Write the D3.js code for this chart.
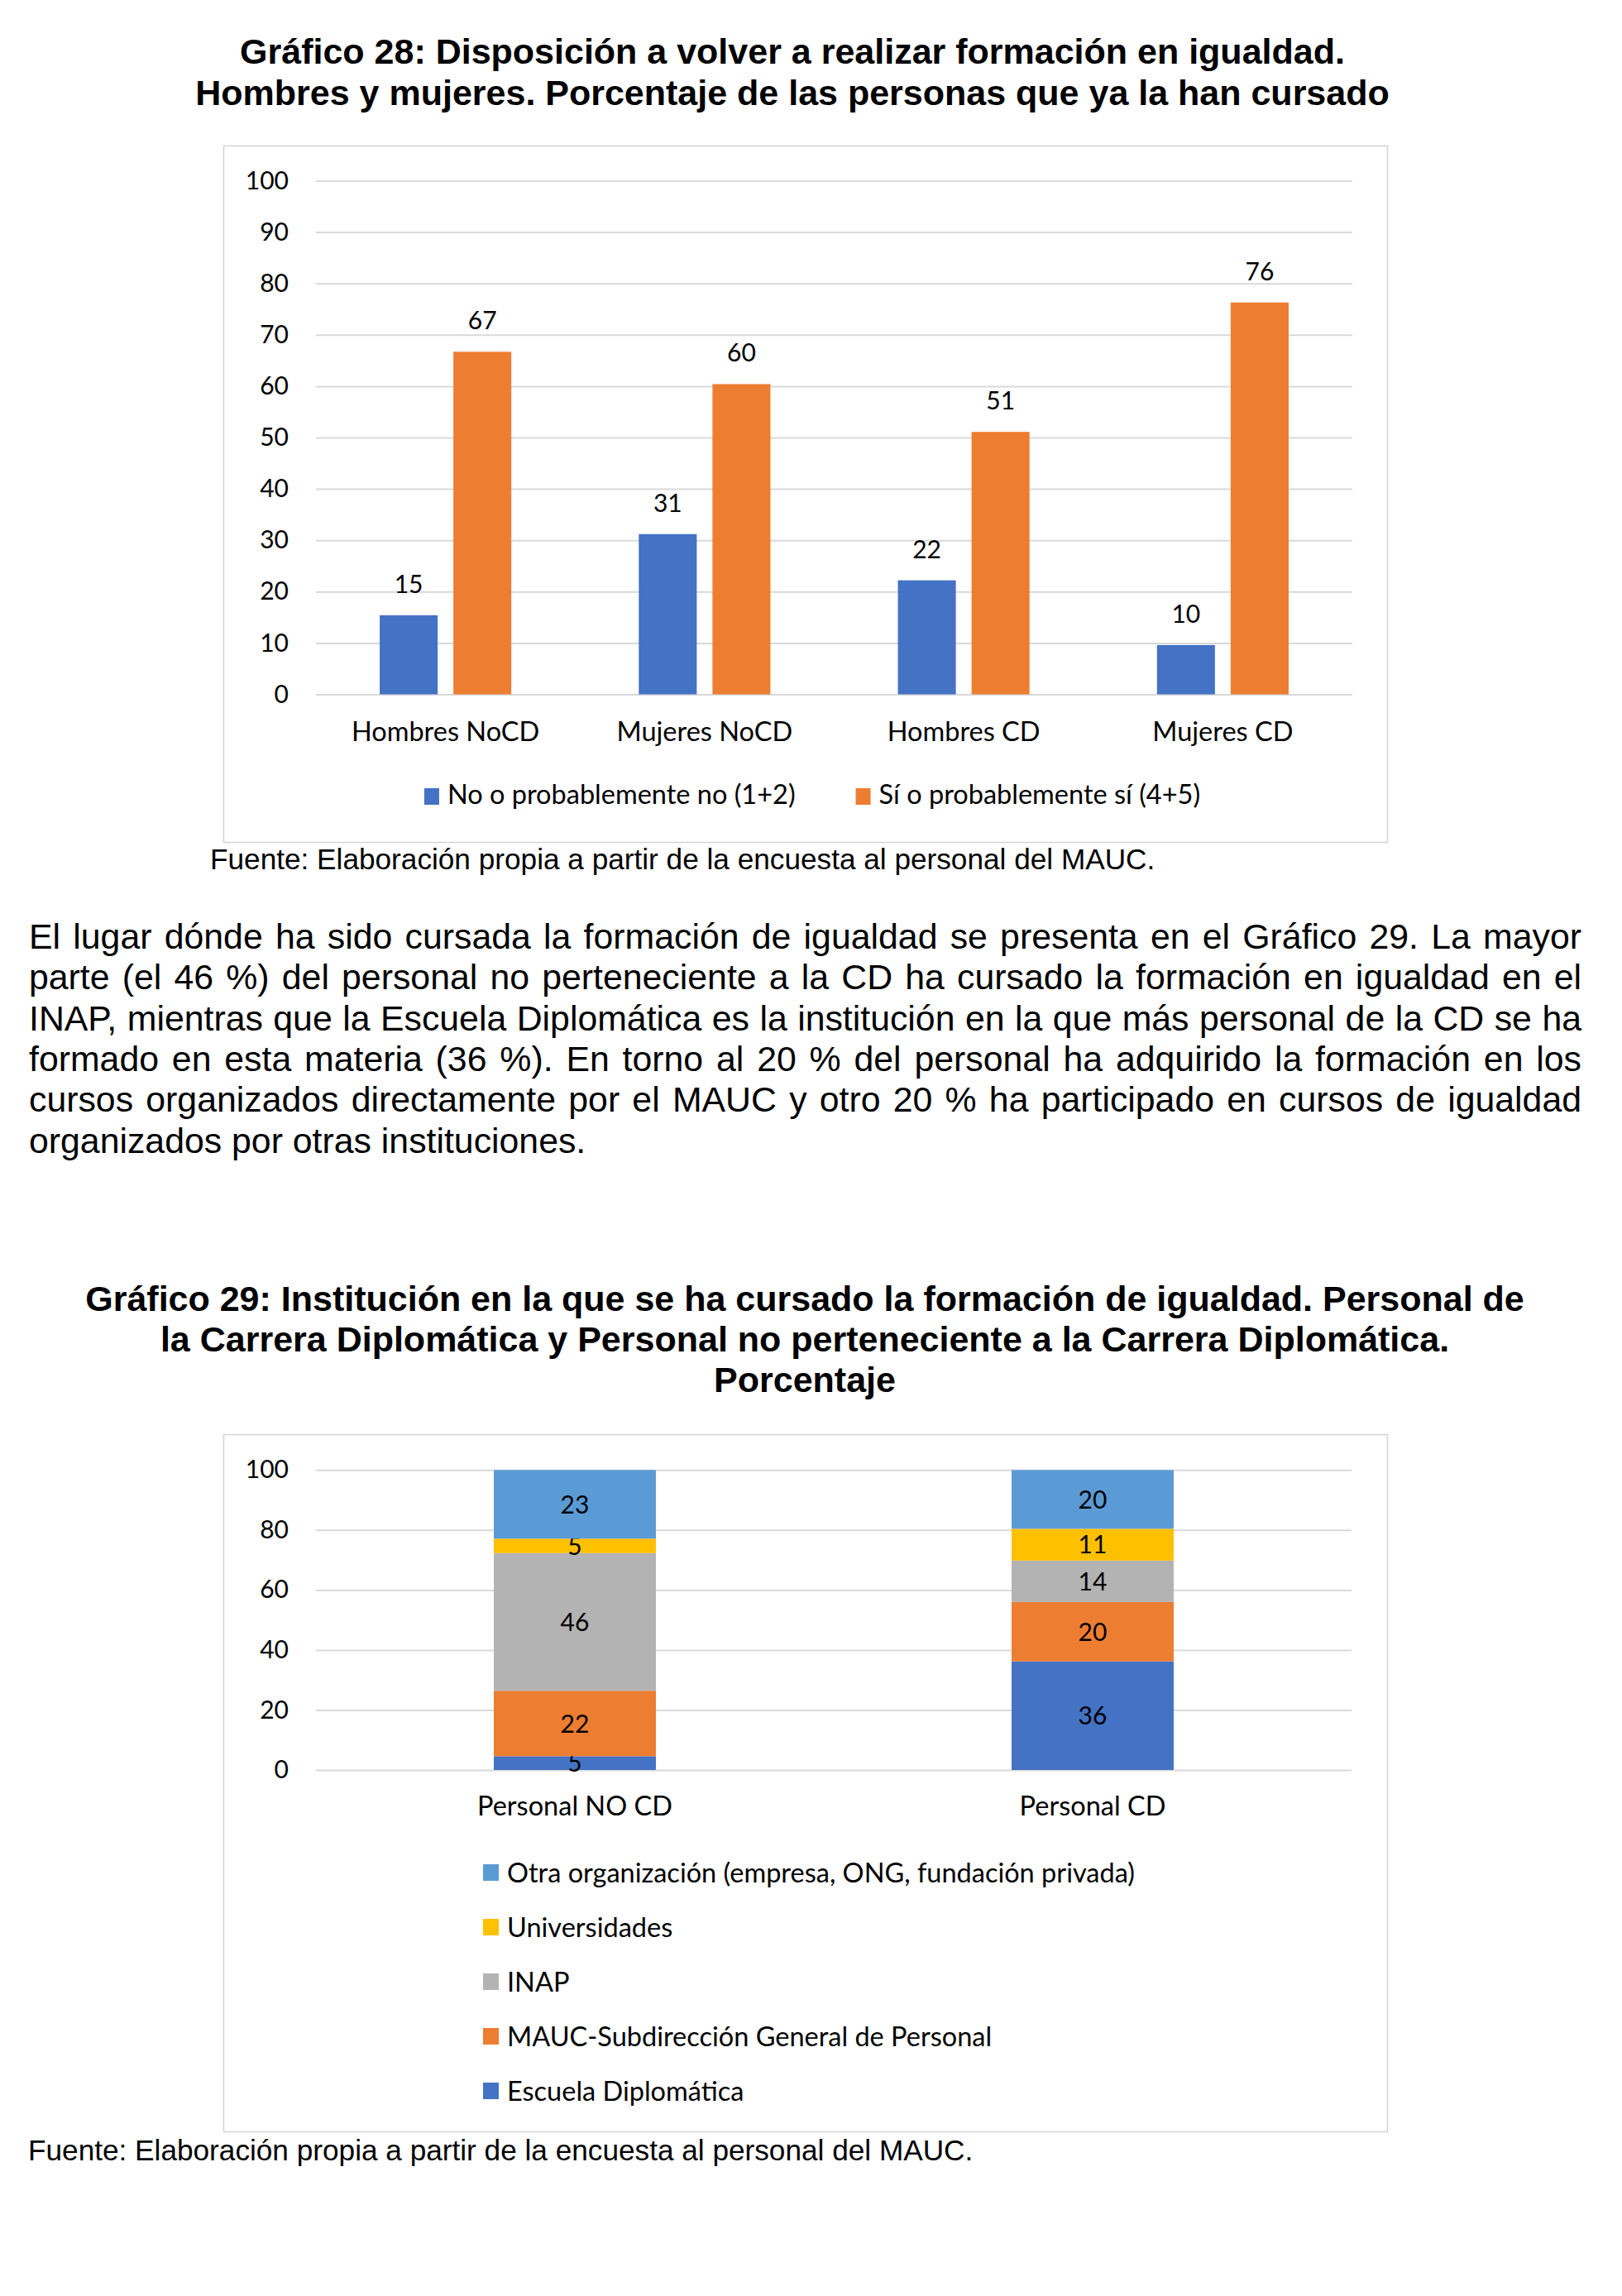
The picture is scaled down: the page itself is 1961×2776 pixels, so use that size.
<!DOCTYPE html>
<html>
<head>
<meta charset="utf-8">
<script src="https://cdn.jsdelivr.net/npm/d3@7.9.0/dist/d3.min.js"></script>
<style>
  body { margin: 0; background: #fff; }
  svg { display: block; }
  .doc { font-family: "Liberation Sans", Arial, sans-serif; fill: #000; }
  .chart text { font-family: Lato, "Open Sans", sans-serif; fill: #000; }
</style>
</head>
<body>
<svg id="page" width="1961" height="2776"></svg>
<script>
// Gráfico 28
const groups28 = ["Hombres NoCD", "Mujeres NoCD", "Hombres CD", "Mujeres CD"];
const series28 = ["No o probablemente no (1+2)", "Sí o probablemente sí (4+5)"];
const noValues = [15.4, 31.2, 22.2, 9.6];
const siValues = [66.7, 60.4, 51.1, 76.3];
const ticks28 = [0, 10, 20, 30, 40, 50, 60, 70, 80, 90, 100];

// Gráfico 29 (stack order: bottom to top)
const groups29 = ["Personal NO CD", "Personal CD"];
const institutions = ["Escuela Diplomática", "MAUC-Subdirección General de Personal", "INAP", "Universidades", "Otra organización (empresa, ONG, fundación privada)"];
const escuelaValues = [4.6, 36.2];
const maucValues = [21.8, 19.8];
const inapValues = [45.9, 13.8];
const uniValues = [4.8, 10.6];
const otraValues = [22.9, 19.6];
const ticks29 = [0, 20, 40, 60, 80, 100];

const title28 = ["Gráfico 28: Disposición a volver a realizar formación en igualdad.",
  "Hombres y mujeres. Porcentaje de las personas que ya la han cursado"];
const title29 = ["Gráfico 29: Institución en la que se ha cursado la formación de igualdad. Personal de",
  "la Carrera Diplomática y Personal no perteneciente a la Carrera Diplomática.",
  "Porcentaje"];
const paragraph = [
  "El lugar dónde ha sido cursada la formación de igualdad se presenta en el Gráfico 29. La mayor",
  "parte (el 46 %) del personal no perteneciente a la CD ha cursado la formación en igualdad en el",
  "INAP, mientras que la Escuela Diplomática es la institución en la que más personal de la CD se ha",
  "formado en esta materia (36 %). En torno al 20 % del personal ha adquirido la formación en los",
  "cursos organizados directamente por el MAUC y otro 20 % ha participado en cursos de igualdad",
  "organizados por otras instituciones."];
const fuente = "Fuente: Elaboración propia a partir de la encuesta al personal del MAUC.";

const blue = "#4472C4", orange = "#ED7D31", gray = "#B3B3B3", yellow = "#FFC000", lightBlue = "#5B9BD5";
const fmt = d3.format(".0f");
const numSize = 30, labelSize = 32.5;

const svg = d3.select("#page");

// ---------- titles, paragraph, sources ----------
title28.forEach((t, i) => {
  svg.append("text").attr("class", "doc")
    .attr("x", 958).attr("y", 77 + i * 50)
    .attr("text-anchor", "middle")
    .attr("font-size", 43).attr("font-weight", "bold")
    .text(t);
});

title29.forEach((t, i) => {
  svg.append("text").attr("class", "doc")
    .attr("x", 973).attr("y", 1585 + i * 49)
    .attr("text-anchor", "middle")
    .attr("font-size", 43).attr("font-weight", "bold")
    .text(t);
});

paragraph.forEach((line, i) => {
  let t = svg.append("text").attr("class", "doc")
    .attr("x", 35).attr("y", 1147 + i * 49.3)
    .attr("font-size", 42.8)
    .text(line);
  if (i < paragraph.length - 1) {
    // justify: spread the remaining room over the spaces
    let natural = t.node().getComputedTextLength();
    let spaces = line.split(" ").length - 1;
    t.attr("word-spacing", (1877 - natural) / spaces);
  }
});

svg.append("text").attr("class", "doc")
  .attr("x", 254).attr("y", 1051).attr("font-size", 35.2).text(fuente);
svg.append("text").attr("class", "doc")
  .attr("x", 34).attr("y", 2612).attr("font-size", 35.2).text(fuente);

// ---------- Gráfico 28 ----------
let c1 = svg.append("g").attr("class", "chart");
c1.append("rect")
  .attr("x", 270.5).attr("y", 176.5).attr("width", 1407).attr("height", 842)
  .attr("fill", "#fff").attr("stroke", "#d4d4d4").attr("stroke-width", 1.5);

let y1 = d3.scaleLinear().domain([0, 100]).range([839.5, 218.5]);
let x0 = d3.scaleBand().domain(groups28).range([382, 1635]);
let pair = x0.bandwidth() * 0.508;
let x1 = d3.scaleBand().domain(series28).range([0, pair]).paddingInner(0.2135);

let yAxis1 = d3.axisLeft(y1).tickValues(ticks28).tickSize(-(1635 - 382)).tickPadding(33);
let ga1 = c1.append("g").attr("transform", "translate(382,0)").call(yAxis1);
ga1.select(".domain").remove();
ga1.selectAll(".tick line").attr("stroke", "#d9d9d9").attr("stroke-width", 2);
ga1.selectAll(".tick text").attr("font-size", numSize).attr("fill", "#000");

let rows28 = groups28.map((g, i) => ({ group: g, values: [noValues[i], siValues[i]] }));
rows28.forEach((row) => {
  row.values.forEach((v, j) => {
    let bx = x0(row.group) + (x0.bandwidth() - pair) / 2 + x1(series28[j]);
    c1.append("rect")
      .attr("x", bx).attr("y", y1(v))
      .attr("width", x1.bandwidth()).attr("height", y1(0) - y1(v))
      .attr("fill", j === 0 ? blue : orange);
    c1.append("text")
      .attr("x", bx + x1.bandwidth() / 2).attr("y", y1(v) - 27)
      .attr("text-anchor", "middle").attr("font-size", numSize)
      .text(fmt(v));
  });
  c1.append("text")
    .attr("x", x0(row.group) + x0.bandwidth() / 2).attr("y", 896)
    .attr("text-anchor", "middle").attr("font-size", labelSize)
    .text(row.group);
});

// legend, centred under the plot
let leg1 = c1.append("g");
let lx = 0;
series28.forEach((s, j) => {
  leg1.append("rect").attr("x", lx).attr("y", 953).attr("width", 18).attr("height", 20)
    .attr("fill", j === 0 ? blue : orange);
  let t = leg1.append("text").attr("x", lx + 28).attr("y", 972).attr("font-size", labelSize).text(s);
  lx += 28 + t.node().getComputedTextLength() + 73;
});
lx -= 73;
leg1.attr("transform", `translate(${982 - lx / 2},0)`);

// ---------- Gráfico 29 ----------
let c2 = svg.append("g").attr("class", "chart");
c2.append("rect")
  .attr("x", 270.5).attr("y", 1734.5).attr("width", 1407).attr("height", 843)
  .attr("fill", "#fff").attr("stroke", "#d4d4d4").attr("stroke-width", 1.5);

let y2 = d3.scaleLinear().domain([0, 100]).range([2140, 1777.3]);
let x2 = d3.scaleBand().domain(groups29).range([382, 1634]);
let barW = x2.bandwidth() * 0.313;
let colors29 = d3.scaleOrdinal().domain(institutions).range([blue, orange, gray, yellow, lightBlue]);

let yAxis2 = d3.axisLeft(y2).tickValues(ticks29).tickSize(-(1634 - 382)).tickPadding(33);
let ga2 = c2.append("g").attr("transform", "translate(382,0)").call(yAxis2);
ga2.select(".domain").remove();
ga2.selectAll(".tick line").attr("stroke", "#d9d9d9").attr("stroke-width", 2);
ga2.selectAll(".tick text").attr("font-size", numSize).attr("fill", "#000");

let valueLists = [escuelaValues, maucValues, inapValues, uniValues, otraValues];
let rows29 = groups29.map((g, i) => {
  let r = { group: g };
  institutions.forEach((k, j) => { r[k] = valueLists[j][i]; });
  return r;
});
let stacked = d3.stack().keys(institutions)(rows29);

stacked.forEach((layer) => {
  layer.forEach((d) => {
    let bx = x2(d.data.group) + (x2.bandwidth() - barW) / 2;
    c2.append("rect")
      .attr("x", bx).attr("y", y2(d[1]))
      .attr("width", barW).attr("height", y2(d[0]) - y2(d[1]))
      .attr("fill", colors29(layer.key));
    c2.append("text")
      .attr("x", bx + barW / 2).attr("y", (y2(d[0]) + y2(d[1])) / 2)
      .attr("dy", "0.36em")
      .attr("text-anchor", "middle").attr("font-size", numSize)
      .text(fmt(d[1] - d[0]));
  });
});

groups29.forEach((g) => {
  c2.append("text")
    .attr("x", x2(g) + x2.bandwidth() / 2).attr("y", 2195)
    .attr("text-anchor", "middle").attr("font-size", labelSize)
    .text(g);
});

institutions.slice().reverse().forEach((k, i) => {
  let cy = 2264 + i * 66;
  c2.append("rect").attr("x", 584).attr("y", cy - 10).attr("width", 19).attr("height", 20)
    .attr("fill", colors29(k));
  c2.append("text").attr("x", 613).attr("y", cy).attr("dy", "0.36em")
    .attr("font-size", labelSize).text(k);
});
</script>
</body>
</html>
